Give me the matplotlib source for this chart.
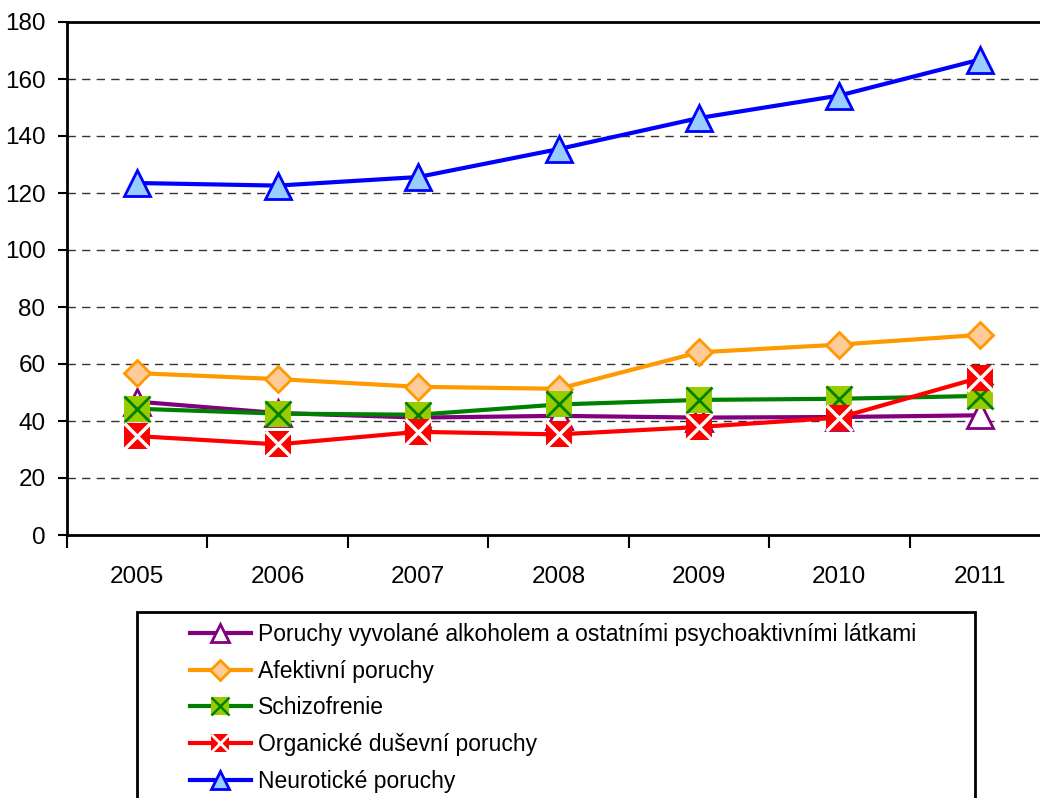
import matplotlib.pyplot as plt
import numpy as np
from matplotlib.lines import Line2D
from matplotlib.legend_handler import HandlerTuple
from matplotlib.patches import Rectangle

plt.rcParams["font.family"] = ["Liberation Sans", "DejaVu Sans"]

roky = ["2005", "2006", "2007", "2008", "2009", "2010", "2011"]

alkohol = [46.8, 42.8, 41.2, 41.8, 41.2, 41.4, 42.0]
afektivni = [56.8, 54.7, 52.0, 51.3, 64.1, 66.8, 70.2]
schizofrenie = [44.3, 42.6, 42.2, 45.8, 47.4, 47.8, 48.8]
organicke = [34.7, 31.8, 36.2, 35.3, 37.9, 41.2, 55.2]
neuroticke = [123.5, 122.6, 125.6, 135.4, 146.3, 154.2, 166.8]

nazvy = [
    "Poruchy vyvolané alkoholem a ostatními psychoaktivními látkami",
    "Afektivní poruchy",
    "Schizofrenie",
    "Organické duševní poruchy",
    "Neurotické poruchy",
]

fig = plt.figure(figsize=(10.4, 7.98), dpi=100)
W, H = 1040, 798
ax = fig.add_axes([67 / W, 1 - 535 / H, 983 / W, 513 / H])

x = np.arange(len(roky))
lw = 3

ax.plot(x, alkohol, color="#800080", lw=lw, marker="^", ms=19,
        mfc="white", mec="#800080", mew=2, zorder=3)
ax.plot(x, afektivni, color="#FF9900", lw=lw, marker="D", ms=13.5,
        mfc="#FFCC99", mec="#FF9900", mew=2, zorder=4)
ax.plot(x, schizofrenie, color="#008000", lw=lw, marker="s", ms=19,
        mfc="#99CC00", mec="#99CC00", mew=0, zorder=5)
ax.plot(x, schizofrenie, ls="none", marker="x", ms=19, mec="#008000",
        mew=2, zorder=5)
ax.plot(x, organicke, color="#FF0000", lw=lw, marker="s", ms=19,
        mfc="#FF0000", mec="#FF0000", mew=0, zorder=6)
ax.plot(x, organicke, ls="none", marker="x", ms=19, mec="white",
        mew=2.5, zorder=6)
ax.plot(x, neuroticke, color="#0000FF", lw=lw, marker="^", ms=19,
        mfc="#99CCFF", mec="#0000FF", mew=2, zorder=7)

ax.set_xlim(-0.5, 6.5)
ax.set_ylim(0, 180)
ax.set_yticks(np.arange(0, 181, 20))
ax.set_xticks(x)
ax.set_xticklabels(roky)
ax.set_xticks(np.arange(-0.5, 7, 1), minor=True)
ax.tick_params(axis="x", which="major", length=0, pad=22, labelsize=17.5)
ax.tick_params(axis="x", which="minor", length=9, width=1.5, direction="out")
ax.tick_params(axis="y", length=6.5, width=1.5, pad=9, labelsize=17.5)

for yv in range(20, 180, 20):
    ax.axhline(yv, color="#333333", lw=1, ls=(0, (6, 4.5)), zorder=1)

for s in ["left", "bottom", "top"]:
    ax.spines[s].set_linewidth(2)
    ax.spines[s].set_color("black")
ax.spines["right"].set_visible(False)

h_alk = Line2D([], [], color="#800080", lw=lw, marker="^", ms=13,
               mfc="white", mec="#800080", mew=2)
h_afe = Line2D([], [], color="#FF9900", lw=lw, marker="D", ms=10,
               mfc="#FFCC99", mec="#FF9900", mew=2)
h_sch = (Line2D([], [], color="#008000", lw=lw, marker="s", ms=13,
                mfc="#99CC00", mec="#99CC00", mew=0),
         Line2D([], [], ls="none", marker="x", ms=13, mec="#008000", mew=1.8))
h_org = (Line2D([], [], color="#FF0000", lw=lw, marker="s", ms=13,
                mfc="#FF0000", mec="#FF0000", mew=0),
         Line2D([], [], ls="none", marker="x", ms=13, mec="white", mew=2))
h_neu = Line2D([], [], color="#0000FF", lw=lw, marker="^", ms=13,
               mfc="#99CCFF", mec="#0000FF", mew=2)

fig.legend([h_alk, h_afe, h_sch, h_org, h_neu], nazvy,
           handler_map={tuple: HandlerTuple(ndivide=1, pad=0)},
           loc="upper left", bbox_to_anchor=(190 / W, 1 - 623 / H),
           frameon=False, fontsize=16.5, handlelength=2.65, handletextpad=0.3,
           labelspacing=0.6, borderpad=0, borderaxespad=0)

fig.patches.append(Rectangle((137 / W, -0.05), (975 - 137) / W, 0.05 + (798 - 612) / H,
                             transform=fig.transFigure, fill=False,
                             edgecolor="black", lw=2))

fig.savefig("out.png", dpi=100)
